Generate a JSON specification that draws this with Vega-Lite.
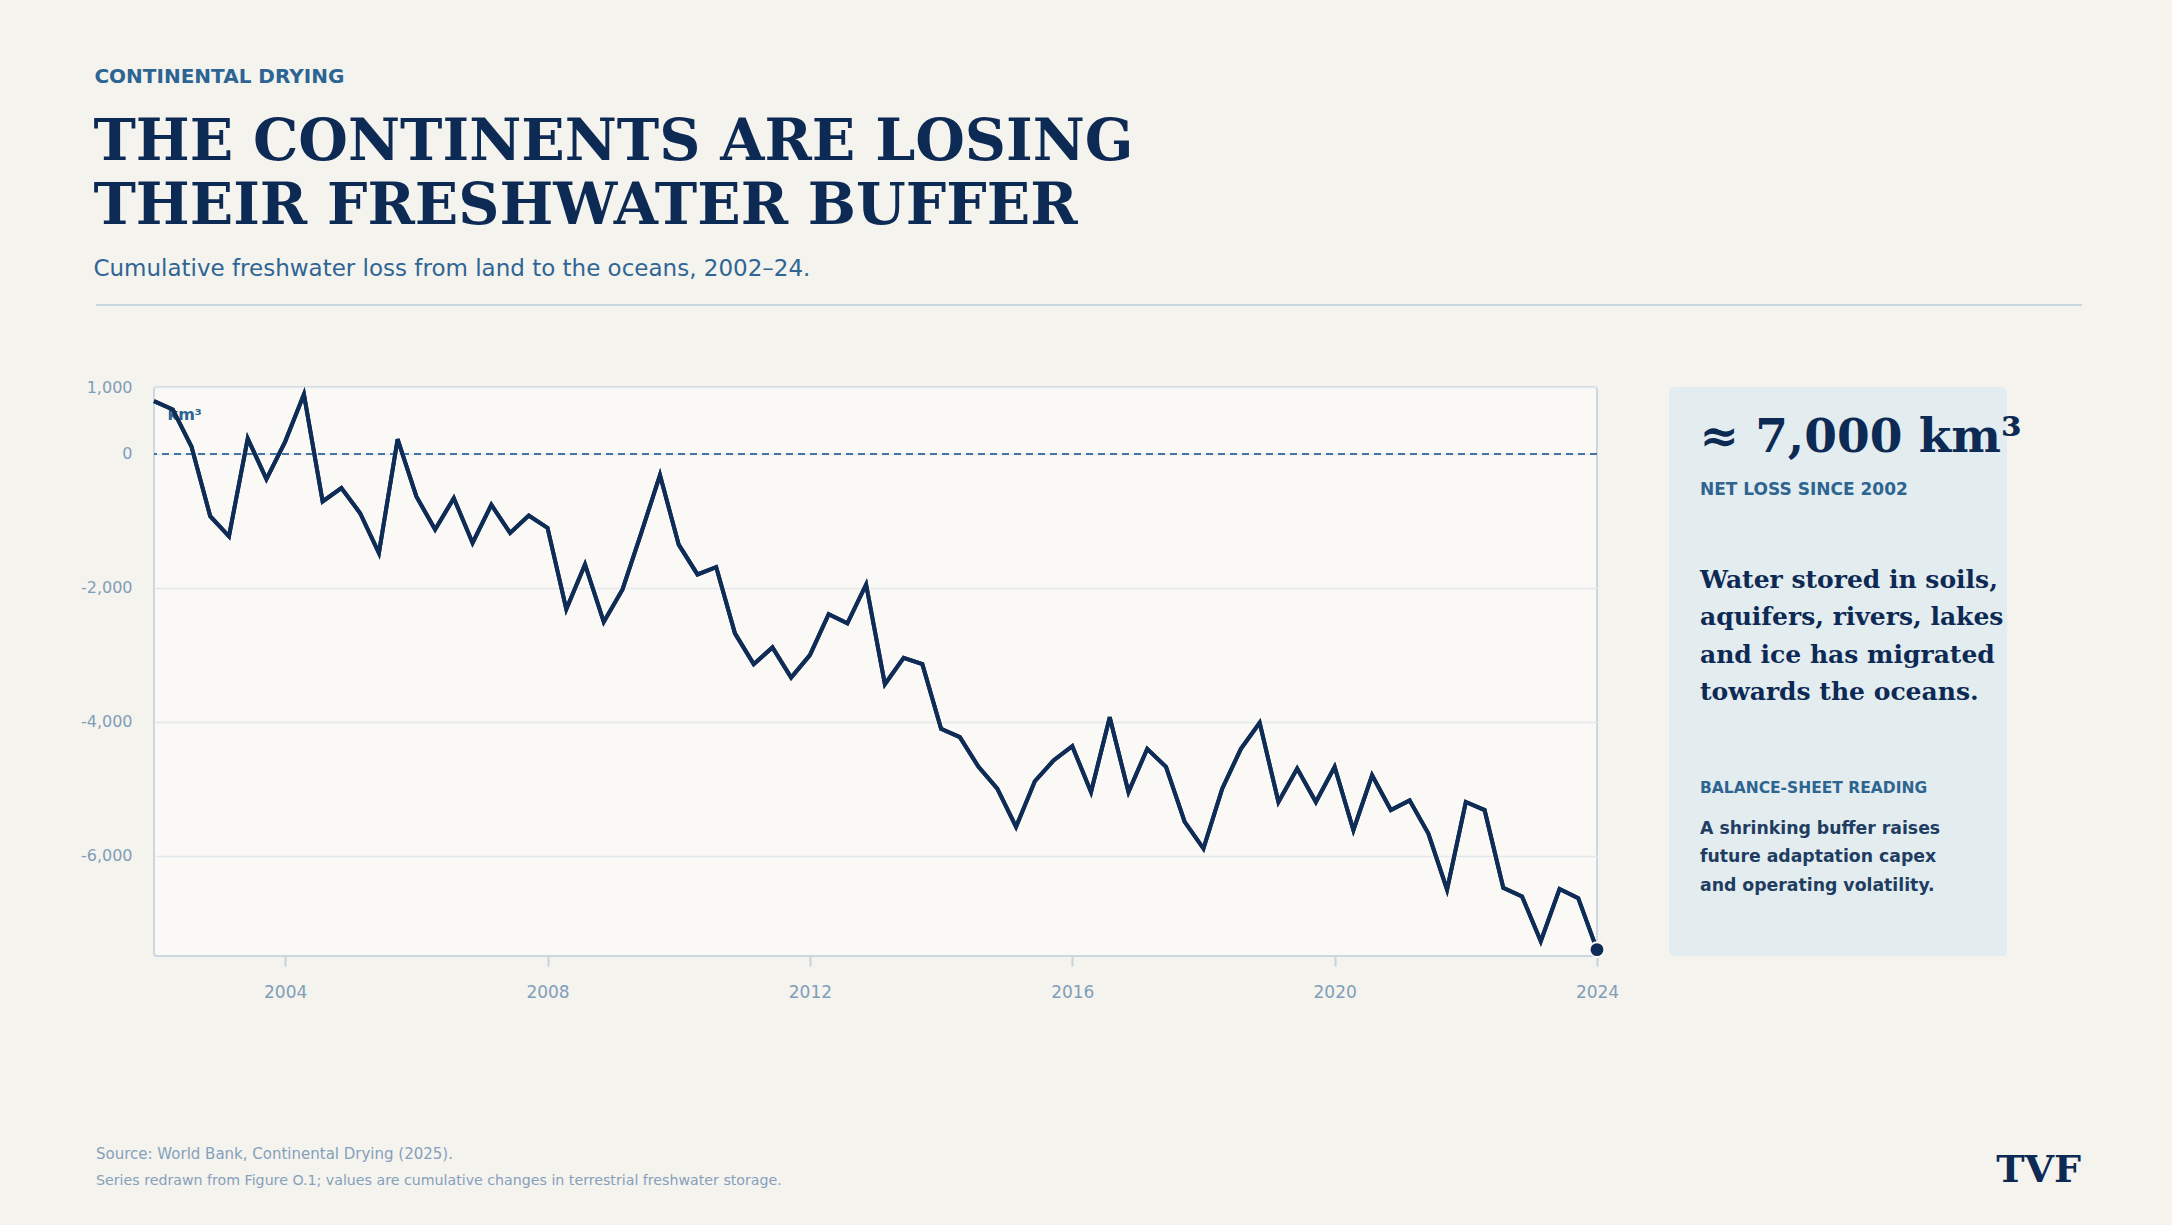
{
  "$schema": "https://vega.github.io/schema/vega-lite/v6.json",
  "background": "#f4f3ee",
  "padding": {"left": 79, "right": 91, "top": 66, "bottom": 35},
  "config": {"font": "DejaVu Sans"},
  "title": {
    "text": "CONTINENTAL DRYING",
    "anchor": "start",
    "dx": 15,
    "offset": 27,
    "font": "DejaVu Sans",
    "fontSize": 20,
    "fontWeight": "bold",
    "color": "#2c6492"
  },
  "vconcat": [
    {
      "title": {
        "text": ["THE CONTINENTS ARE LOSING", "THEIR FRESHWATER BUFFER"],
        "subtitle": "Cumulative freshwater loss from land to the oceans, 2002–24.",
        "anchor": "start",
        "dx": 14,
        "offset": 21,
        "font": "DejaVu Serif",
        "fontSize": 57,
        "fontWeight": "bold",
        "lineHeight": 64,
        "color": "#0d2a54",
        "subtitleFont": "DejaVu Sans",
        "subtitleFontSize": 23,
        "subtitleFontWeight": "normal",
        "subtitleColor": "#2f6594",
        "subtitlePadding": 22
      },
      "bounds": "flush",
      "spacing": 72,
      "hconcat": [
        {
          "width": 1443,
          "height": 569,
          "view": {"fill": "#faf9f6", "stroke": "#cbd8e1", "strokeWidth": 2, "cornerRadius": 3},
          "title": {
            "text": "Source: World Bank, Continental Drying (2025).",
            "subtitle": "Series redrawn from Figure O.1; values are cumulative changes in terrestrial freshwater storage.",
            "orient": "bottom",
            "anchor": "start",
            "frame": "group",
            "dx": -58,
            "offset": 147,
            "font": "DejaVu Sans",
            "fontSize": 15,
            "fontWeight": "normal",
            "color": "#86a0bb",
            "subtitleFont": "DejaVu Sans",
            "subtitleFontSize": 14.2,
            "subtitleColor": "#86a0bb",
            "subtitlePadding": 12
          },
          "data": {
            "values": [
              {"year": 2002.000, "km3": 790},
              {"year": 2002.286, "km3": 665},
              {"year": 2002.571, "km3": 110},
              {"year": 2002.857, "km3": -930},
              {"year": 2003.143, "km3": -1230},
              {"year": 2003.429, "km3": 230},
              {"year": 2003.714, "km3": -375},
              {"year": 2004.000, "km3": 185},
              {"year": 2004.286, "km3": 890},
              {"year": 2004.571, "km3": -710},
              {"year": 2004.857, "km3": -510},
              {"year": 2005.143, "km3": -885},
              {"year": 2005.429, "km3": -1480},
              {"year": 2005.714, "km3": 220},
              {"year": 2006.000, "km3": -635},
              {"year": 2006.286, "km3": -1130},
              {"year": 2006.571, "km3": -660},
              {"year": 2006.857, "km3": -1330},
              {"year": 2007.143, "km3": -760},
              {"year": 2007.429, "km3": -1180},
              {"year": 2007.714, "km3": -920},
              {"year": 2008.000, "km3": -1105},
              {"year": 2008.286, "km3": -2320},
              {"year": 2008.571, "km3": -1650},
              {"year": 2008.857, "km3": -2510},
              {"year": 2009.143, "km3": -2025},
              {"year": 2009.429, "km3": -1180},
              {"year": 2009.714, "km3": -315},
              {"year": 2010.000, "km3": -1355},
              {"year": 2010.286, "km3": -1800},
              {"year": 2010.571, "km3": -1690},
              {"year": 2010.857, "km3": -2680},
              {"year": 2011.143, "km3": -3140},
              {"year": 2011.429, "km3": -2890},
              {"year": 2011.714, "km3": -3340},
              {"year": 2012.000, "km3": -3005},
              {"year": 2012.286, "km3": -2395},
              {"year": 2012.571, "km3": -2530},
              {"year": 2012.857, "km3": -1950},
              {"year": 2013.143, "km3": -3440},
              {"year": 2013.429, "km3": -3045},
              {"year": 2013.714, "km3": -3140},
              {"year": 2014.000, "km3": -4105},
              {"year": 2014.286, "km3": -4230},
              {"year": 2014.571, "km3": -4675},
              {"year": 2014.857, "km3": -5000},
              {"year": 2015.143, "km3": -5570},
              {"year": 2015.429, "km3": -4890},
              {"year": 2015.714, "km3": -4580},
              {"year": 2016.000, "km3": -4365},
              {"year": 2016.286, "km3": -5050},
              {"year": 2016.571, "km3": -3935},
              {"year": 2016.857, "km3": -5050},
              {"year": 2017.143, "km3": -4405},
              {"year": 2017.429, "km3": -4675},
              {"year": 2017.714, "km3": -5495},
              {"year": 2018.000, "km3": -5895},
              {"year": 2018.286, "km3": -5000},
              {"year": 2018.571, "km3": -4405},
              {"year": 2018.857, "km3": -4015},
              {"year": 2019.143, "km3": -5200},
              {"year": 2019.429, "km3": -4700},
              {"year": 2019.714, "km3": -5200},
              {"year": 2020.000, "km3": -4675},
              {"year": 2020.286, "km3": -5620},
              {"year": 2020.571, "km3": -4800},
              {"year": 2020.857, "km3": -5320},
              {"year": 2021.143, "km3": -5175},
              {"year": 2021.429, "km3": -5670},
              {"year": 2021.714, "km3": -6510},
              {"year": 2022.000, "km3": -5200},
              {"year": 2022.286, "km3": -5320},
              {"year": 2022.571, "km3": -6480},
              {"year": 2022.857, "km3": -6610},
              {"year": 2023.143, "km3": -7280},
              {"year": 2023.429, "km3": -6500},
              {"year": 2023.714, "km3": -6635},
              {"year": 2024.000, "km3": -7405}
            ]
          },
          "layer": [
            {
              "mark": {"type": "line", "color": "#0f2c56", "strokeWidth": 4, "strokeJoin": "miter"},
              "encoding": {
                "x": {
                  "field": "year",
                  "type": "quantitative",
                  "scale": {"domain": [2002, 2024], "nice": false, "zero": false},
                  "axis": {
                    "values": [2004, 2008, 2012, 2016, 2020, 2024],
                    "format": "d",
                    "title": null,
                    "grid": false,
                    "domain": false,
                    "ticks": true,
                    "tickColor": "#c5d3dd",
                    "tickSize": 10,
                    "tickWidth": 2,
                    "labelFlush": false,
                    "labelFont": "DejaVu Sans",
                    "labelFontSize": 17,
                    "labelColor": "#819db9",
                    "labelPadding": 18
                  }
                },
                "y": {
                  "field": "km3",
                  "type": "quantitative",
                  "scale": {"domain": [-7500, 1000], "nice": false},
                  "axis": {
                    "values": [-6000, -4000, -2000, 0, 1000],
                    "labelExpr": "datum.value < 0 ? '-' + format(-datum.value, ',') : format(datum.value, ',')",
                    "title": "km³",
                    "titleAngle": 0,
                    "titleAlign": "left",
                    "titleBaseline": "alphabetic",
                    "titleX": 13,
                    "titleY": 32,
                    "titleFont": "DejaVu Sans",
                    "titleFontSize": 16,
                    "titleFontWeight": "bold",
                    "titleColor": "#2c6492",
                    "grid": true,
                    "gridColor": "#e2e8eb",
                    "gridWidth": 1.5,
                    "domain": false,
                    "ticks": false,
                    "labelFont": "DejaVu Sans",
                    "labelFontSize": 16,
                    "labelColor": "#819db9",
                    "labelPadding": 22
                  }
                }
              }
            },
            {
              "mark": {"type": "rule", "color": "#4675a3", "strokeWidth": 2, "strokeDash": [7, 5]},
              "encoding": {"y": {"datum": 0, "type": "quantitative"}}
            },
            {
              "mark": {"type": "line", "color": "#0f2c56", "strokeWidth": 4, "strokeJoin": "miter"},
              "encoding": {
                "x": {"field": "year", "type": "quantitative"},
                "y": {"field": "km3", "type": "quantitative"}
              }
            },
            {
              "mark": {"type": "rule", "color": "#c9d6df", "strokeWidth": 2},
              "encoding": {
                "x": {"datum": 2001.116, "type": "quantitative"},
                "x2": {"datum": 2031.39},
                "y": {"datum": 2225, "type": "quantitative"}
              }
            },
            {
              "transform": [{"filter": "datum.year == 2024"}],
              "mark": {"type": "point", "filled": true, "size": 220, "color": "#0f2c56", "stroke": "#faf9f6", "strokeWidth": 2, "opacity": 1},
              "encoding": {
                "x": {"field": "year", "type": "quantitative"},
                "y": {"field": "km3", "type": "quantitative"}
              }
            }
          ]
        },
        {
          "width": 338,
          "height": 569,
          "view": {"fill": "#e3ecef", "stroke": null, "cornerRadius": 5},
          "title": {
            "text": "TVF",
            "orient": "bottom",
            "anchor": "end",
            "frame": "group",
            "dx": 74,
            "offset": 196,
            "font": "DejaVu Serif",
            "fontSize": 38,
            "fontWeight": "bold",
            "color": "#0d2a54"
          },
          "layer": [
            {
              "data": {"values": [{"text": "≈ 7,000 km³"}]},
              "mark": {"type": "text", "font": "DejaVu Serif", "fontSize": 47, "fontWeight": "bold", "color": "#0d2a54", "align": "left", "baseline": "alphabetic"},
              "encoding": {
                "x": {"datum": 0.09, "type": "quantitative", "scale": {"domain": [0, 1]}, "axis": null},
                "y": {"datum": 0.1137, "type": "quantitative", "scale": {"domain": [0, 1], "reverse": true}, "axis": null},
                "text": {"field": "text"}
              }
            },
            {
              "data": {"values": [{"text": "NET LOSS SINCE 2002"}]},
              "mark": {"type": "text", "font": "DejaVu Sans", "fontSize": 17, "fontWeight": "bold", "color": "#2e6590", "align": "left", "baseline": "alphabetic"},
              "encoding": {
                "x": {"datum": 0.0917, "type": "quantitative"},
                "y": {"datum": 0.1898, "type": "quantitative"},
                "text": {"field": "text"}
              }
            },
            {
              "mark": {"type": "rule", "color": "#c5d5de", "strokeWidth": 2},
              "encoding": {
                "x": {"datum": 0.0896, "type": "quantitative"},
                "x2": {"datum": 0.912},
                "y": {"datum": 0.2543, "type": "quantitative"}
              }
            },
            {
              "data": {"values": [{"text": "Water stored in soils,\naquifers, rivers, lakes\nand ice has migrated\ntowards the oceans."}]},
              "mark": {"type": "text", "font": "DejaVu Serif", "fontSize": 25, "fontWeight": "bold", "color": "#0d2a54", "align": "left", "baseline": "alphabetic", "lineBreak": "\n", "lineHeight": 37.2},
              "encoding": {
                "x": {"datum": 0.0917, "type": "quantitative"},
                "y": {"datum": 0.3538, "type": "quantitative"},
                "text": {"field": "text"}
              }
            },
            {
              "data": {"values": [{"text": "BALANCE-SHEET READING"}]},
              "mark": {"type": "text", "font": "DejaVu Sans", "fontSize": 15.5, "fontWeight": "bold", "color": "#2e6590", "align": "left", "baseline": "alphabetic"},
              "encoding": {
                "x": {"datum": 0.0917, "type": "quantitative"},
                "y": {"datum": 0.7141, "type": "quantitative"},
                "text": {"field": "text"}
              }
            },
            {
              "data": {"values": [{"text": "A shrinking buffer raises\nfuture adaptation capex\nand operating volatility."}]},
              "mark": {"type": "text", "font": "DejaVu Sans", "fontSize": 17.3, "fontWeight": "bold", "color": "#1f3c61", "align": "left", "baseline": "alphabetic", "lineBreak": "\n", "lineHeight": 28.3},
              "encoding": {
                "x": {"datum": 0.0917, "type": "quantitative"},
                "y": {"datum": 0.7856, "type": "quantitative"},
                "text": {"field": "text"}
              }
            }
          ]
        }
      ]
    }
  ]
}
